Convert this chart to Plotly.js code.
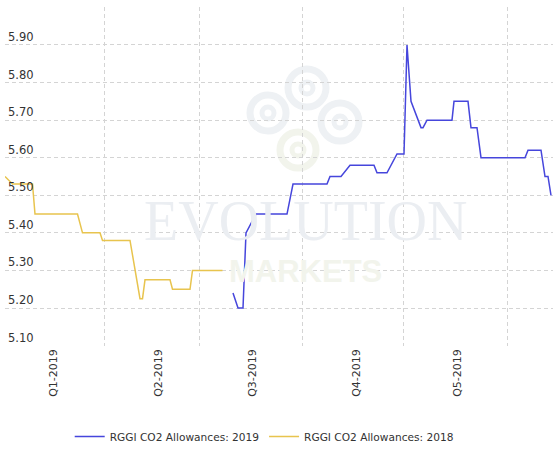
<!DOCTYPE html>
<html>
<head>
<meta charset="utf-8">
<script src="https://cdn.plot.ly/plotly-3.0.1.min.js"></script>
<style>html,body{margin:0;padding:0;background:#fff;}#chart{width:553px;height:451px;}</style>
</head>
<body>
<div id="chart"></div>
<script>
// Trading-day index along the x axis, prices in USD
const days2018 = [0, 3, 11, 12, 29, 31, 38, 39, 50, 54, 55, 56, 66, 67, 74, 75, 87];
const price2018 = [5.55, 5.53, 5.53, 5.45, 5.45, 5.40, 5.40, 5.38, 5.38, 5.225, 5.225, 5.275, 5.275, 5.25, 5.25, 5.30, 5.30];

const days2019 = [91.2, 93.2, 95.2, 96.4, 100.4, 112.8, 115.2, 128.8, 130, 134.4, 138, 147.6, 148.8, 152.8, 156.8, 159.6, 160.8, 162.4, 166.4, 167.2, 168.8, 178.8, 179.6, 185.2, 186.4, 188.8, 190.4, 208, 209.2, 214.4, 216, 217.2, 218.4];
const price2019 = [5.24, 5.20, 5.20, 5.40, 5.45, 5.45, 5.53, 5.53, 5.55, 5.55, 5.58, 5.58, 5.56, 5.56, 5.61, 5.61, 5.90, 5.75, 5.68, 5.68, 5.70, 5.70, 5.75, 5.75, 5.68, 5.68, 5.60, 5.60, 5.62, 5.62, 5.55, 5.55, 5.50];

const quarterLabels = ['Q1-2019', 'Q2-2019', 'Q3-2019', 'Q4-2019', 'Q5-2019'];
const quarterLabelDays = [19.2, 61.2, 98.8, 140.4, 180.8];
const quarterGridDays = [39.6, 77.6, 118.8, 159.2, 200.8];

const priceTicks = [5.1, 5.2, 5.3, 5.4, 5.5, 5.6, 5.7, 5.8, 5.9, 6.0];
const priceTickText = ['5.10', '5.20', '5.30', '5.40', '5.50', '5.60', '5.70', '5.80', '5.90', ''];

const seriesNames = ['RGGI CO2 Allowances: 2019', 'RGGI CO2 Allowances: 2018'];

const traces = [
  {x: days2019, y: price2019, name: seriesNames[0], mode: 'lines', line: {color: '#4646dc', width: 1.5}},
  {x: days2018, y: price2018, name: seriesNames[1], mode: 'lines', line: {color: '#e8c44e', width: 1.5}}
];

function ring(xp, yp, r, w, color) {
  return {type: 'circle', layer: 'below', xref: 'paper', yref: 'paper',
    xsizemode: 'pixel', ysizemode: 'pixel', xanchor: xp, yanchor: yp,
    x0: -r, x1: r, y0: -r, y1: r, line: {color: color, width: w}};
}
function px2x(p) { return (p - 5) / 548; }
function px2y(p) { return (346 - p) / 339; }

const logoGray = '#eef1f4';
const logoGreen = '#f2f4ec';
const shapes = [
  ring(px2x(307), px2y(88), 19, 7, logoGray), ring(px2x(307), px2y(88), 6, 5, logoGray),
  ring(px2x(268), px2y(113), 18, 7, logoGray), ring(px2x(268), px2y(113), 6, 5, logoGray),
  ring(px2x(340), px2y(122), 19, 7, logoGray), ring(px2x(340), px2y(122), 6, 5, logoGray),
  ring(px2x(298), px2y(150), 18, 7, logoGreen), ring(px2x(298), px2y(150), 6, 5, logoGreen)
];

const layout = {
  width: 553, height: 451,
  margin: {l: 5, r: 0, t: 7, b: 105},
  paper_bgcolor: '#ffffff', plot_bgcolor: '#ffffff',
  showlegend: true,
  legend: {orientation: 'h', x: 0.473, xanchor: 'center', y: -0.268, yanchor: 'middle',
    font: {family: 'DejaVu Sans', size: 10.6, color: '#333333'}, itemwidth: 30, tracegroupgap: 0},
  xaxis: {
    range: [0, 219.2], showline: false, zeroline: false, showgrid: false,
    tickmode: 'array', tickvals: quarterLabelDays, ticktext: quarterLabels,
    tickangle: -90, ticks: '', tickfont: {family: 'DejaVu Sans', size: 11, color: '#333333'},
    minor: {tickmode: 'array', tickvals: quarterGridDays, showgrid: true, gridcolor: '#d4d4d4', griddash: '4px,3px', gridwidth: 1, ticks: ''}
  },
  yaxis: {
    range: [5.099, 6.001], showline: false, zeroline: false,
    tickmode: 'array', tickvals: priceTicks, ticktext: priceTickText,
    ticklabelposition: 'inside top', ticks: '',
    tickfont: {family: 'DejaVu Sans', size: 11.5, color: '#333333'},
    showgrid: true, gridcolor: '#d4d4d4', griddash: '4px,3px', gridwidth: 1
  },
  shapes: shapes,
  annotations: [
    {text: 'EVOLUTION', xref: 'paper', yref: 'paper', x: px2x(305), y: px2y(221), showarrow: false,
      font: {family: 'Liberation Serif', size: 56, color: '#ebeef2'}, xanchor: 'center', yanchor: 'middle'},
    {text: 'MARKETS', xref: 'paper', yref: 'paper', x: px2x(305), y: px2y(271), showarrow: false,
      font: {family: 'Liberation Sans', size: 31, color: '#f2f4ec', weight: 'bold'}, xanchor: 'center', yanchor: 'middle'}
  ]
};

Plotly.newPlot('chart', traces, layout, {displayModeBar: false, staticPlot: true});
</script>
</body>
</html>
